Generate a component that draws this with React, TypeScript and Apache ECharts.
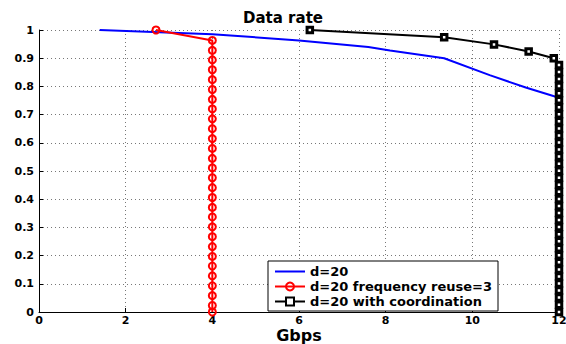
import React, { useEffect, useRef } from "react";
import * as echarts from "echarts";

const titleText = "Data rate";
const xAxisName = "Gbps";
const seriesNames = ["d=20", "d=20 frequency reuse=3", "d=20 with coordination"];

// Blue curve: d=20
const blueX = [1.4, 4, 6, 7.6, 8.1, 9.35, 10.4, 11.25, 12];
const blueY = [1.0, 0.985, 0.963, 0.94, 0.927, 0.9, 0.84, 0.795, 0.76];

// Red curve: frequency reuse=3 (head, then column at x=4)
const redHeadX = [2.7];
const redHeadY = [1.0];
const redColumnX = 4;
const redColumnY = [
  0.963, 0.928, 0.894, 0.859, 0.824, 0.789, 0.754, 0.72, 0.685, 0.65,
  0.615, 0.58, 0.545, 0.511, 0.476, 0.441, 0.406, 0.371, 0.337, 0.302,
  0.267, 0.232, 0.197, 0.163, 0.128, 0.093, 0.058, 0.023, 0,
];

// Black curve: with coordination (head, then column at x=12)
const blackHeadX = [6.25, 9.35, 10.5, 11.3, 11.88];
const blackHeadY = [1.0, 0.974, 0.949, 0.924, 0.9];
const blackColumnX = 12;
const blackColumnY = [
  0.876, 0.851, 0.826, 0.801, 0.776, 0.751, 0.726, 0.701, 0.676, 0.651,
  0.626, 0.601, 0.576, 0.551, 0.526, 0.501, 0.476, 0.451, 0.426, 0.401,
  0.376, 0.351, 0.326, 0.301, 0.276, 0.251, 0.226, 0.201, 0.176, 0.151,
  0.126, 0.101, 0.076, 0.051, 0.026, 0,
];

const FONT = "DejaVu Sans";

export default function App() {
  const ref = useRef<HTMLDivElement>(null);
  useEffect(() => {
    if (!ref.current) return;
    const chart = echarts.init(ref.current, undefined, { renderer: "svg" });
    const blueData = blueX.map((x, i) => [x, blueY[i]]);
    const redData = [
      ...redHeadX.map((x, i) => [x, redHeadY[i]]),
      ...redColumnY.map((y) => [redColumnX, y]),
    ];
    const blackData = [
      ...blackHeadX.map((x, i) => [x, blackHeadY[i]]),
      ...blackColumnY.map((y) => [blackColumnX, y]),
    ];
    const gridLine = { show: true, lineStyle: { color: "#777", type: [1, 3] as any, width: 1 } };
    chart.setOption({
      animation: false,
      backgroundColor: "#fff",
      title: {
        text: titleText,
        left: "center",
        top: 10,
        padding: 0,
        textStyle: { fontFamily: FONT, fontWeight: "bold", fontSize: 15, color: "#000" },
      },
      grid: { left: 39, right: 7, top: 30, bottom: 32, containLabel: false, outerBoundsMode: "none" },
      xAxis: {
        type: "value",
        min: 0,
        max: 12,
        interval: 2,
        name: xAxisName,
        nameLocation: "middle",
        nameGap: 17,
        nameMoveOverlap: false,
        nameTextStyle: { fontFamily: FONT, fontWeight: "bold", fontSize: 16, color: "#000", lineHeight: 12 },
        axisLine: { show: true, onZero: false, lineStyle: { color: "#000", width: 1 } },
        axisTick: { show: true, inside: true, length: 4, lineStyle: { color: "#000" } },
        axisLabel: { margin: 3, fontFamily: FONT, fontWeight: "bold", fontSize: 11, color: "#000", lineHeight: 11 },
        splitLine: gridLine,
      },
      yAxis: {
        type: "value",
        min: 0,
        max: 1,
        interval: 0.1,
        axisLine: { show: true, onZero: false, lineStyle: { color: "#000", width: 1 } },
        axisTick: { show: true, inside: true, length: 4, lineStyle: { color: "#000" } },
        axisLabel: { margin: 5, fontFamily: FONT, fontWeight: "bold", fontSize: 11, color: "#000" },
        splitLine: gridLine,
      },
      legend: {
        orient: "vertical",
        left: 268,
        top: 261,
        padding: [4, 6, 3, 6],
        itemWidth: 30,
        itemHeight: 10,
        itemGap: 2,
        selectedMode: false,
        backgroundColor: "#fff",
        borderColor: "#000",
        borderWidth: 1,
        borderRadius: 0,
        textStyle: { fontFamily: FONT, fontWeight: "bold", fontSize: 13, color: "#000", lineHeight: 13 },
        data: seriesNames,
      },
      series: [
        {
          name: seriesNames[0],
          type: "line",
          data: blueData,
          symbol: "circle",
          showSymbol: false,
          lineStyle: { color: "#0000ff", width: 2 },
          itemStyle: { color: "rgba(0,0,255,0)", borderWidth: 0 },
          clip: false,
          z: 2,
        },
        {
          name: seriesNames[1],
          type: "line",
          data: redData,
          symbol: "circle",
          symbolSize: 7,
          lineStyle: { color: "#ff0000", width: 2 },
          itemStyle: { color: "rgba(255,255,255,0)", borderColor: "#ff0000", borderWidth: 2 },
          clip: false,
          z: 3,
        },
        {
          name: seriesNames[2],
          type: "line",
          data: blackData,
          symbol: "rect",
          symbolSize: 5.5,
          lineStyle: { color: "#000", width: 2 },
          itemStyle: { color: "#fff", borderColor: "#000", borderWidth: 3 },
          clip: false,
          z: 4,
        },
      ],
    });
    return () => chart.dispose();
  }, []);
  return (
    <div
      ref={ref}
      style={{ position: "absolute", left: 0, top: 0, width: 566, height: 344 }}
    />
  );
}
